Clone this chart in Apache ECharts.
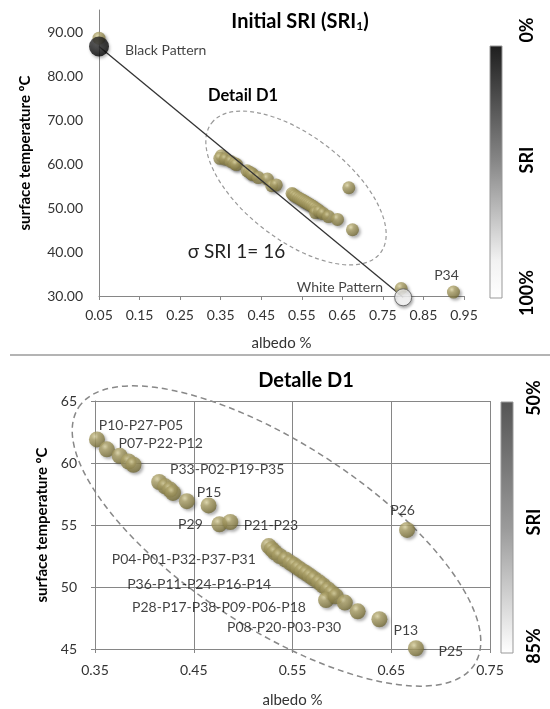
<!DOCTYPE html>
<html><head><meta charset="utf-8">
<script src="https://cdn.jsdelivr.net/npm/echarts@6/dist/echarts.min.js"></script>
<style>html,body{margin:0;padding:0;background:#fff}#c{width:550px;height:709px}</style>
</head><body><div id="c"></div>
<script>
// ---- data (albedo, surface temperature) ----
const d1Albedo = [0.352,0.348,0.362, 0.375,0.384,0.389, 0.415,0.421,0.426,0.429,0.443, 0.465, 0.476, 0.487,
  0.526,0.529,0.532,0.537,0.543, 0.548,0.552,0.556,0.560,0.564, 0.568,0.572,0.577,0.581,0.586,0.590,
  0.584,0.594,0.603,0.616, 0.638, 0.675, 0.666];
const d1Temp = [61.9,61.3,61.1, 60.58,60.12,59.86, 58.47,58.12,57.86,57.59,56.92, 56.58, 55.06, 55.24,
  53.30,53.05,52.80,52.50,52.22, 51.95,51.75,51.52,51.30,51.10, 50.88,50.65,50.38,50.12,49.80,49.52,
  48.95,49.25,48.74,48.04, 47.40, 45.06, 54.60];
const d1LabelText = ['P10-P27-P05','P07-P22-P12','P33-P02-P19-P35','P15','P29','P21-P23',
  'P04-P01-P32-P37-P31','P36-P11-P24-P16-P14','P28-P17-P38-P09-P06-P18','P08-P20-P03-P30','P13','P25','P26'];
const d1LabelAnchor = [0,3,6,11,12,13,14,19,24,30,34,35,36];
const patternNames = ['Black Pattern','White Pattern'];
const patternAlbedo = [0.05, 0.80];
const patternTemp = [86.7, 29.7];
const behindAlbedo = [0.05, 0.795];   // gold points hidden behind the patterns
const behindTemp = [88.6, 31.7];
const outName = ['P34'];
const outAlbedo = [0.924];
const outTemp = [30.9];
const topXAxis = [0.05, 0.95, 0.1];
const topYAxis = [30, 95, 10];
const botXAxis = [0.35, 0.75, 0.1];
const botYAxis = [45, 65, 5];
const topBar = ['0%','SRI','100%'];
const botBar = ['50%','SRI','85%'];

// ---- styles ----
const labelOffsets = [[44,-13.5],[41,-12.7],[68,-12.3],[0.4,-12.6],[-29,0.7],[40.7,3],[-85,13],[-91.3,21.7],[-91.3,31.3],[-42,27.7],[26.4,11],[34.9,3.4],[-4.5,-19]];
const FONT = 'Lato';
const gold = {type:'radial', x:0.38, y:0.32, r:0.72, colorStops:[
  {offset:0, color:'#e4dcaa'},{offset:0.3, color:'#b0a56c'},{offset:0.75, color:'#8b814a'},{offset:1, color:'#6c6434'}]};
const bubbleStyle = {color: gold, shadowColor:'rgba(0,0,0,0.38)', shadowBlur:3, shadowOffsetX:2, shadowOffsetY:2};
const zip = (a,b) => a.map((v,i)=>[v,b[i]]);

const axisLine = {lineStyle:{color:'#868686', width:1}};
const tickLbl = {color:'#333', fontFamily:FONT, fontSize:14};
const nameStyle = {color:'#000', fontFamily:FONT, fontSize:15, fontWeight:'bold'};

const botData = zip(d1Albedo, d1Temp).map((p,i) => {
  const k = d1LabelAnchor.indexOf(i);
  if (k < 0) return p;
  return {value:p, label:{show:true, formatter:d1LabelText[k], position:'inside', offset:labelOffsets[k],
    color:'#111', fontFamily:FONT, fontSize:14}};
});

const option = {
  animation:false,
  title:[
    {text:'{a|Initial SRI (SRI}{s|1}{a|)}', left:295, top:6, textAlign:'center',
     textStyle:{rich:{a:{fontSize:20, fontWeight:'bold', fontFamily:FONT, color:'#000'},
                      s:{fontSize:12, fontWeight:'bold', fontFamily:FONT, color:'#000', padding:[9,0,0,0]}}}},
    {text:'Detalle D1', left:301, top:366, textAlign:'center',
     textStyle:{fontSize:20, fontWeight:'bold', fontFamily:FONT, color:'#000'}}
  ],
  grid:[
    {left:99, top:10, width:365, height:286},
    {left:95, top:401, width:395, height:250}
  ],
  xAxis:[
    {gridIndex:0, type:'value', min:topXAxis[0], max:topXAxis[1], interval:topXAxis[2],
     axisLine:axisLine, axisTick:{show:true, length:4, lineStyle:{color:'#868686'}}, splitLine:{show:false},
     axisLabel:Object.assign({margin:12, formatter:v=>v.toFixed(2)}, tickLbl),
     name:'albedo %', nameLocation:'middle', nameGap:40, nameTextStyle:Object.assign({}, nameStyle, {fontWeight:'normal', color:'#333'})},
    {gridIndex:1, type:'value', min:botXAxis[0], max:botXAxis[1], interval:botXAxis[2],
     axisLine:axisLine, axisTick:{show:true, length:4, lineStyle:{color:'#868686'}},
     splitLine:{show:true, lineStyle:{color:'#868686', width:1}},
     axisLabel:Object.assign({margin:14, formatter:v=>v.toFixed(2)}, tickLbl),
     name:'albedo %', nameLocation:'middle', nameGap:44, nameTextStyle:Object.assign({}, nameStyle, {fontWeight:'normal', color:'#333'})}
  ],
  yAxis:[
    {gridIndex:0, type:'value', min:topYAxis[0], max:topYAxis[1], interval:topYAxis[2],
     axisLine:Object.assign({show:true}, axisLine), axisTick:{show:false}, splitLine:{show:false},
     axisLabel:Object.assign({margin:16, showMaxLabel:false, formatter:v=>v.toFixed(2)}, tickLbl),
     name:'surface temperature ºC', nameLocation:'middle', nameGap:66, nameTextStyle:nameStyle},
    {gridIndex:1, type:'value', min:botYAxis[0], max:botYAxis[1], interval:botYAxis[2],
     axisLine:Object.assign({show:true}, axisLine), axisTick:{show:true, length:4, lineStyle:{color:'#868686'}},
     splitLine:{show:true, lineStyle:{color:'#868686', width:1}},
     axisLabel:Object.assign({margin:18}, tickLbl),
     name:'surface temperature ºC', nameLocation:'middle', nameGap:43, nameTextStyle:nameStyle}
  ],
  series:[
    {type:'scatter', xAxisIndex:0, yAxisIndex:0, symbolSize:13, data:zip(d1Albedo,d1Temp), itemStyle:bubbleStyle, z:3},
    {type:'line', xAxisIndex:0, yAxisIndex:0, data:zip(patternAlbedo,patternTemp), symbol:'none', clip:false,
     lineStyle:{color:'#333', width:1.3}, z:4},
    {type:'scatter', xAxisIndex:0, yAxisIndex:0, symbolSize:13, data:zip(behindAlbedo,behindTemp), itemStyle:bubbleStyle, z:4, clip:false},
    {type:'scatter', xAxisIndex:0, yAxisIndex:0, symbolSize:13, data:zip(outAlbedo,outTemp), itemStyle:bubbleStyle, z:4,
     label:{show:true, formatter:outName[0], position:'top', distance:3, offset:[-7,0], color:'#111', fontFamily:FONT, fontSize:14}},
    {type:'scatter', xAxisIndex:0, yAxisIndex:0, symbolSize:20, z:5, clip:false,
     data:[{value:[patternAlbedo[0],patternTemp[0]], label:{show:true, formatter:patternNames[0], position:'right', distance:16, offset:[0,4]}}],
     itemStyle:{color:{type:'radial',x:0.4,y:0.35,r:0.7,colorStops:[{offset:0,color:'#444'},{offset:1,color:'#000'}]},
       shadowColor:'rgba(0,0,0,0.35)', shadowBlur:3, shadowOffsetX:1, shadowOffsetY:2},
     label:{color:'#111', fontFamily:FONT, fontSize:14}},
    {type:'scatter', xAxisIndex:0, yAxisIndex:0, symbolSize:17, z:5, clip:false,
     data:[{value:[patternAlbedo[1],patternTemp[1]], label:{show:true, formatter:patternNames[1], position:'left', distance:11, offset:[0,-10]}}],
     itemStyle:{color:'#fff', borderColor:'#555', borderWidth:1, shadowColor:'rgba(0,0,0,0.4)', shadowBlur:3, shadowOffsetX:1, shadowOffsetY:2},
     label:{color:'#111', fontFamily:FONT, fontSize:14}},
    {type:'scatter', xAxisIndex:1, yAxisIndex:1, symbolSize:16, data:botData, itemStyle:bubbleStyle, z:3}
  ],
  graphic:[
    {type:'line', shape:{x1:10,y1:355,x2:550,y2:355}, style:{stroke:'#b4b4b4', lineWidth:2}, silent:true},
    {type:'ellipse', shape:{cx:0,cy:0,rx:106.5,ry:52}, x:296, y:188, rotation:-37.6*Math.PI/180,
     style:{fill:'none', stroke:'#999', lineWidth:1.2, lineDash:[4,3]}, silent:true, z:1},
    {type:'ellipse', shape:{cx:0,cy:0,rx:236,ry:92.5}, x:276.5, y:536, rotation:-33*Math.PI/180,
     style:{fill:'none', stroke:'#888', lineWidth:1.5, lineDash:[6,4]}, silent:true, z:1},
    {type:'text', x:243, y:96, style:{text:'Detail D1', font:'bold 16.5px '+FONT, fill:'#000', align:'center', verticalAlign:'middle', textAlign:'center', textVerticalAlign:'middle'}},
    {type:'text', x:236.5, y:252, style:{text:'σ SRI 1= 16', font:'19px '+FONT, fill:'#222', align:'center', verticalAlign:'middle', textAlign:'center', textVerticalAlign:'middle'}},
    {type:'rect', shape:{x:490,y:46,width:12,height:252}, style:{stroke:'#999', lineWidth:1,
      fill:{type:'linear',x:0,y:0,x2:0,y2:1,colorStops:[{offset:0,color:'#1e1e1e'},{offset:0.45,color:'#858585'},{offset:0.85,color:'#f2f2f2'},{offset:1,color:'#fff'}]}}},
    {type:'rect', shape:{x:501,y:402,width:12,height:251}, style:{stroke:'#999', lineWidth:1,
      fill:{type:'linear',x:0,y:0,x2:0,y2:1,colorStops:[{offset:0,color:'#555'},{offset:0.5,color:'#9a9a9a'},{offset:1,color:'#fff'}]}}},
    ...[[topBar[0],527,30],[topBar[1],527,160],[topBar[2],527,293],[botBar[0],534,398],[botBar[1],534,522],[botBar[2],534,646]].map(t=>({
      type:'text', x:t[1], y:t[2], rotation:Math.PI/2,
      style:{text:t[0], font:'bold 18px '+FONT, fill:'#000', align:'center', verticalAlign:'middle', textAlign:'center', textVerticalAlign:'middle'}}))
  ]
};
const chart = echarts.init(document.getElementById('c'), null, {renderer:'canvas'});
chart.setOption(option);
</script></body></html>
